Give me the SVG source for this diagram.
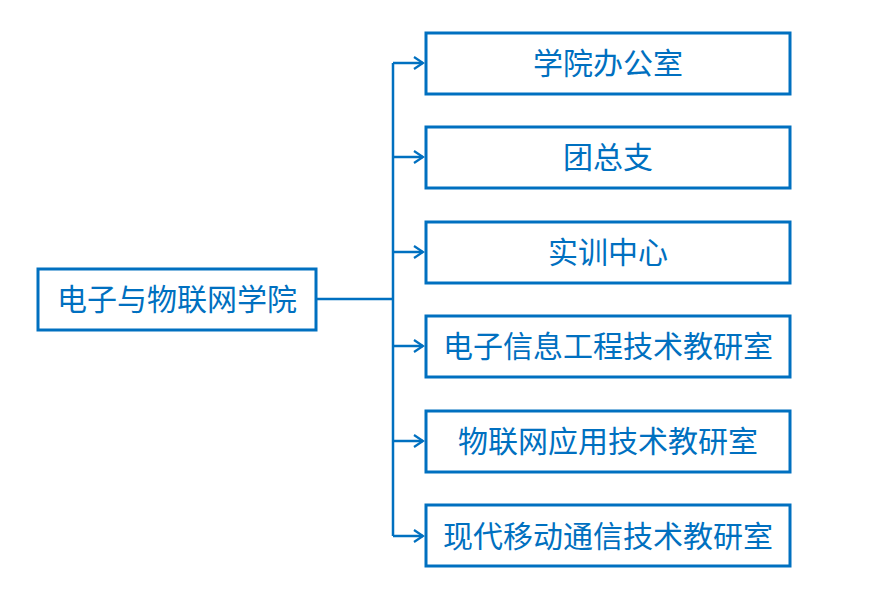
<svg xmlns="http://www.w3.org/2000/svg" width="875" height="611" viewBox="0 0 875 611">
<defs>
<style>
.box{fill:#fff;stroke:#0070C0;stroke-width:3}
.t{font-family:"Microsoft YaHei","Noto Sans CJK SC",sans-serif;font-size:30px;fill:#0070C0;text-anchor:middle;dominant-baseline:central}
.c{fill:none;stroke:#0070C0;stroke-width:2.5}
</style>
<marker id="arr" markerWidth="14" markerHeight="14" refX="12" refY="7" orient="auto" markerUnits="userSpaceOnUse">
<path d="M3,1 L12,7 L3,13" fill="none" stroke="#0070C0" stroke-width="2.2"/>
</marker>
</defs>
<rect width="875" height="611" fill="#fff"/>
<g id="connectors">
<path class="c" d="M316,299 H393"/>
<path class="c" d="M393,63 V536"/>
<path class="c" d="M393,63 H423" marker-end="url(#arr)"/>
<path class="c" d="M393,157 H423" marker-end="url(#arr)"/>
<path class="c" d="M393,252 H423" marker-end="url(#arr)"/>
<path class="c" d="M393,346 H423" marker-end="url(#arr)"/>
<path class="c" d="M393,441 H423" marker-end="url(#arr)"/>
<path class="c" d="M393,536 H423" marker-end="url(#arr)"/>
</g>
<g id="root"><rect class="box" x="38" y="269" width="278" height="61"/><text class="t" x="177" y="297" textLength="240">电子与物联网学院</text></g>
<g id="n1"><rect class="box" x="426" y="33" width="364" height="61"/><text class="t" x="608" y="61">学院办公室</text></g>
<g id="n2"><rect class="box" x="426" y="127" width="364" height="61"/><text class="t" x="608" y="155">团总支</text></g>
<g id="n3"><rect class="box" x="426" y="222" width="364" height="61"/><text class="t" x="608" y="250">实训中心</text></g>
<g id="n4"><rect class="box" x="426" y="316" width="364" height="61"/><text class="t" x="608" y="344">电子信息工程技术教研室</text></g>
<g id="n5"><rect class="box" x="426" y="411" width="364" height="61"/><text class="t" x="608" y="439">物联网应用技术教研室</text></g>
<g id="n6"><rect class="box" x="426" y="505" width="364" height="61"/><text class="t" x="608" y="534">现代移动通信技术教研室</text></g>
</svg>
